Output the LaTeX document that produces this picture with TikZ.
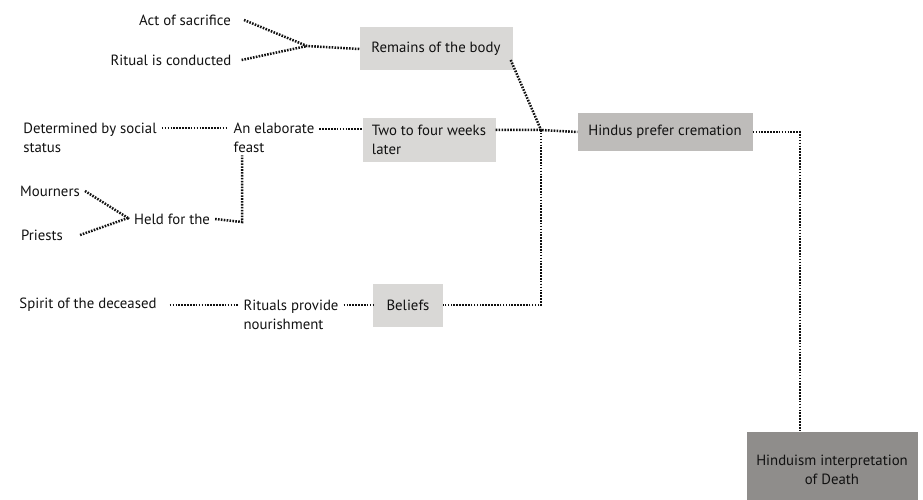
\documentclass[tikz,border=0pt]{standalone}
\usepackage{fontspec}
\setmainfont{PT Sans}
\usetikzlibrary{calc, positioning}
\definecolor{lightbox}{HTML}{D9D8D6}
\definecolor{midbox}{HTML}{BEBCBA}
\definecolor{darkbox}{HTML}{8F8D8B}
\definecolor{ink}{HTML}{111111}
\tikzset{
  word/.style={text=ink, inner xsep=5pt, inner ysep=2pt, font=\fontsize{14.8}{19.5}\selectfont},
  box/.style={word, fill=lightbox, minimum height=43pt},
  boxmid/.style={word, fill=midbox, minimum height=38pt},
  boxdark/.style={word, fill=darkbox, minimum height=76pt},
  dotline/.style={draw=ink, line width=2.5pt, dash pattern=on 1.6pt off 1.3pt}
}
\begin{document}
\begin{tikzpicture}[x=1pt, y=-1pt]
    \useasboundingbox (0,0) rectangle (923,500);
    \node[word] (sacrifice) at (185,20) {Act of sacrifice};
    \node[word] (conducted) at (171,60) {Ritual is conducted};
    \node[box, minimum width=153pt] (remains) at (436,49) {Remains of the body};
    \node[box, minimum width=133pt, align=left] (weeks) at (429,140) {Two to four weeks\\ later};
    \node[boxmid, minimum width=175pt] (cremation) at (665,132) {Hindus prefer cremation};
    \node[box, minimum width=70pt] (beliefs) at (408,305) {Beliefs};
    \node[boxdark, minimum width=171pt, align=center] (death) at (832,470) {Hinduism interpretation\\of Death};
    \node[word, align=left] (social) at (90,138) {Determined by social\\status};
    \node[word, align=left] (feast) at (274,138) {An elaborate\\ feast};
    \node[word] (heldfor) at (172,219) {Held for the};
    \node[word] (mourners) at (50,191) {Mourners};
    \node[word] (priests) at (42,235) {Priests};
    \node[word, align=left] (rituals) at (291,315) {Rituals provide\\nourishment};
    \node[word] (spirit) at (88,305) {Spirit of the deceased};

    \coordinate (j1) at (307,46);
    \coordinate (j2) at (541,130);
    \coordinate (j3) at (800,132);
    \coordinate (j4) at (242,222);
    \coordinate (j5) at (128,218);

    \draw[dotline] ([xshift=8pt]sacrifice.east) -- (j1) -- (remains.west);
    \draw[dotline] ([xshift=5pt]conducted.east) -- (j1);
    \draw[dotline] ([xshift=-2pt, yshift=-11pt]remains.east) -- (j2);
    \draw[dotline] ([yshift=10pt]weeks.east) -- (j2) -- (cremation.west);
    \draw[dotline] (j2) |- (beliefs.east);
    \draw[dotline] (cremation.east) -- (j3) -- (j3 |- death.north);
    \draw[dotline] ([yshift=10pt]social.east) -- ([yshift=10pt]feast.west);
    \draw[dotline] ([yshift=9pt]feast.east) -- ([yshift=9pt]feast.east -| weeks.west);
    \draw[dotline] (heldfor.east) -- (j4) -- (j4 |- feast.south);
    \draw[dotline] (mourners.east) -- (j5);
    \draw[dotline] ([xshift=12pt]priests.east) -- (j5);
    \draw[dotline] (j5) -- (heldfor.west);
    \draw[dotline] ([xshift=8pt]spirit.east) -- ([yshift=10pt]rituals.west);
    \draw[dotline] ([yshift=10pt]rituals.east) -- (beliefs.west);
\end{tikzpicture}
\end{document}
